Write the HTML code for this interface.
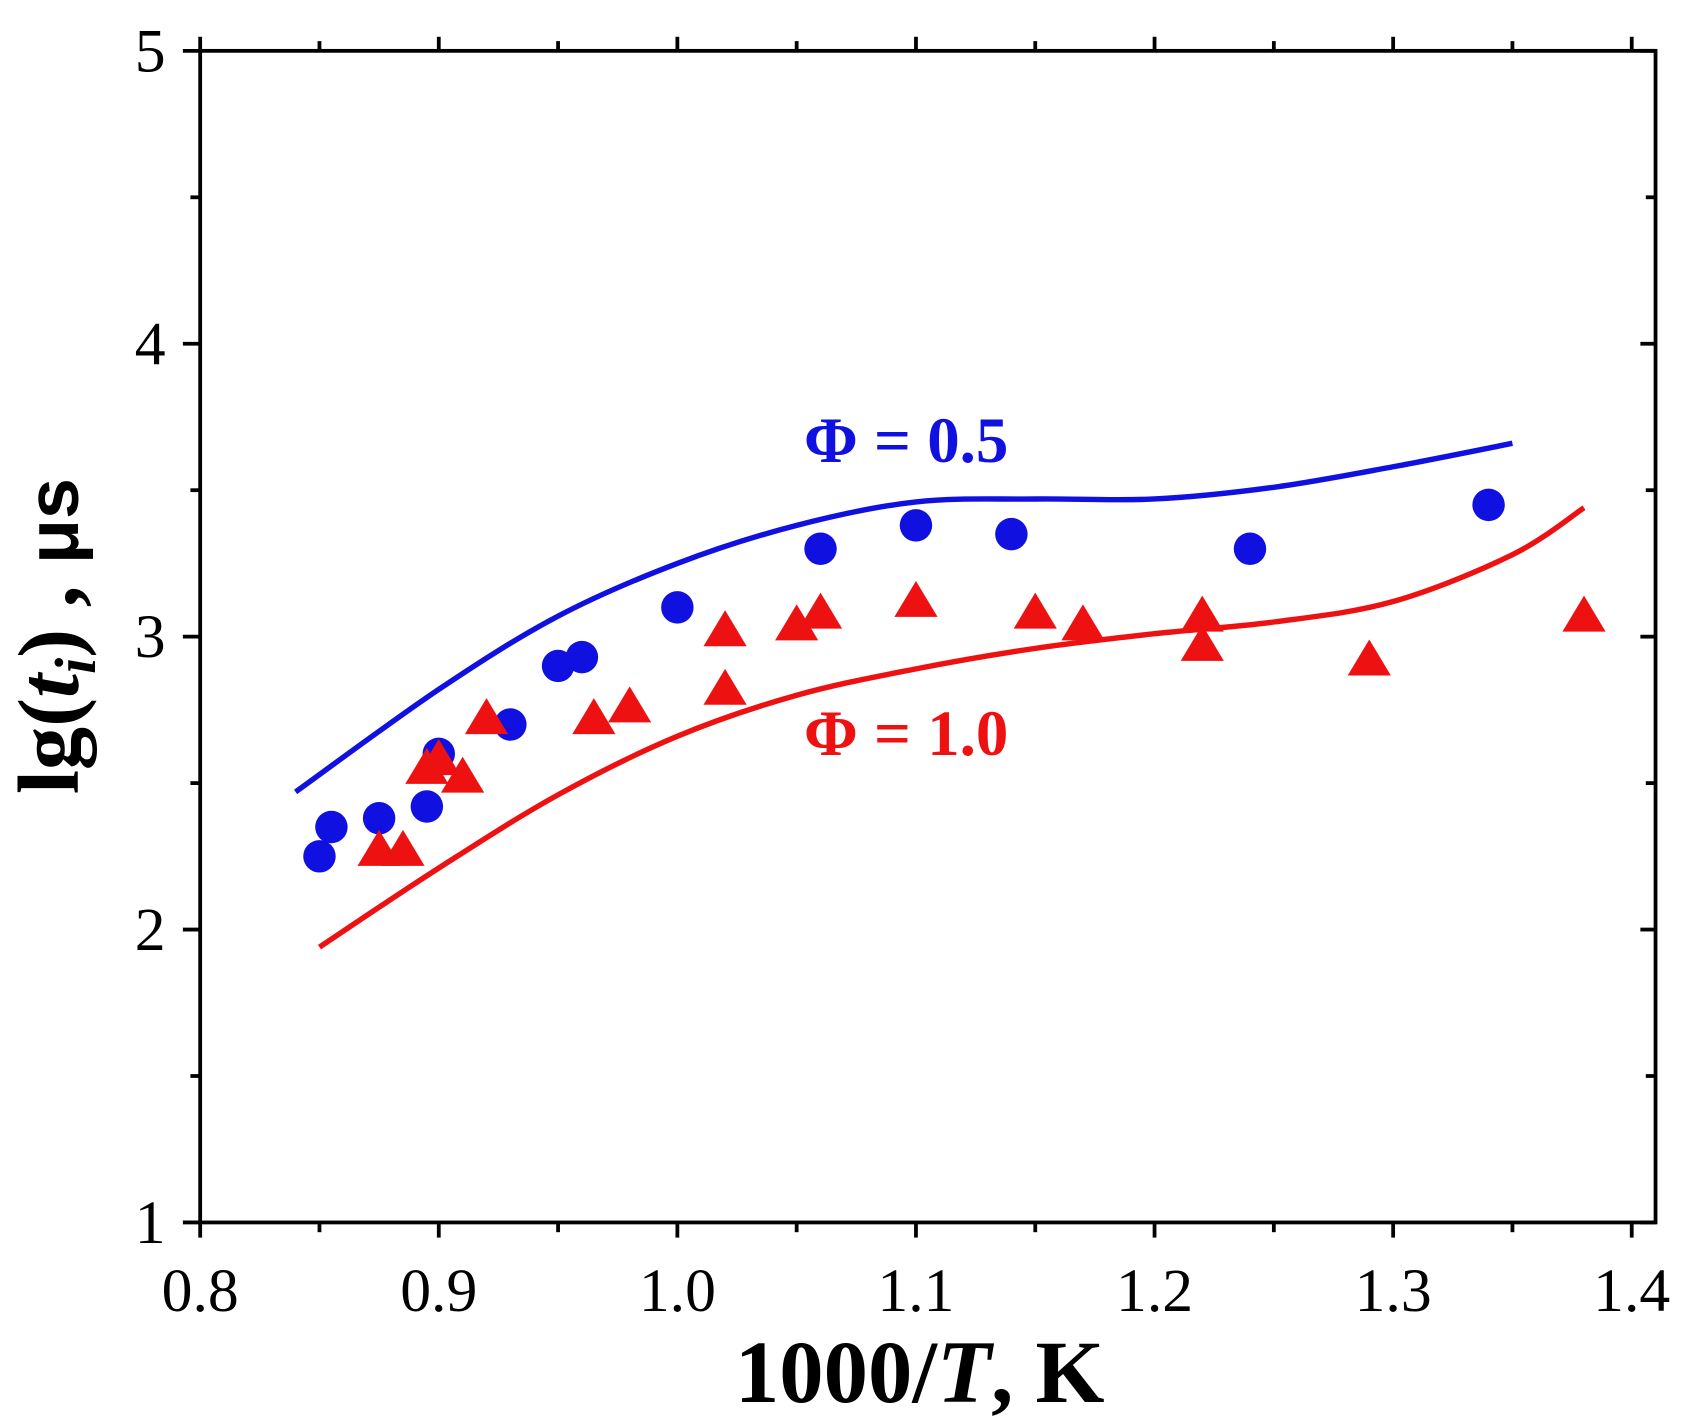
<!DOCTYPE html>
<html><head><meta charset="utf-8"><style>
html,body{margin:0;padding:0;background:#fff;}
svg{display:block;}
text{font-family:"Liberation Serif",serif;}
</style></head><body>
<svg id="chart" width="1688" height="1428" viewBox="0 0 1560 1320" preserveAspectRatio="none" xmlns="http://www.w3.org/2000/svg">
<g id="axes"></g>
<g id="series"></g>
<text x="743" y="427" fill="#1010e0" font-weight="bold" font-size="60">Φ = 0.5</text>
<text x="743" y="698" fill="#ee1111" font-weight="bold" font-size="60">Φ = 1.0</text>
<text x="850" y="1296" text-anchor="middle" font-weight="bold" font-size="82">1000/<tspan font-style="italic">T</tspan>, K</text>
<text transform="translate(72,588) rotate(-90)" text-anchor="middle" font-weight="bold" font-size="80">lg(<tspan font-style="italic">t</tspan><tspan font-style="italic" font-size="54" dy="16">i</tspan><tspan dy="-16">) , </tspan><tspan font-family="Liberation Sans, sans-serif" font-size="68">μs</tspan></text>
</svg>
<script>
const xTicks=[0.8,0.9,1.0,1.1,1.2,1.3,1.4];
const xTickLabels=["0.8","0.9","1.0","1.1","1.2","1.3","1.4"];
const yTicks=[1,2,3,4,5];
const yTickLabels=["1","2","3","4","5"];
const blueX=[0.85,0.855,0.875,0.895,0.9,0.93,0.95,0.96,1.0,1.06,1.1,1.14,1.24,1.34];
const blueY=[2.25,2.35,2.38,2.42,2.6,2.7,2.9,2.93,3.1,3.3,3.38,3.35,3.3,3.45];
const redX=[0.875,0.885,0.895,0.9,0.91,0.92,0.965,0.98,1.02,1.02,1.05,1.06,1.1,1.15,1.17,1.22,1.22,1.29,1.38];
const redY=[2.27,2.27,2.55,2.58,2.52,2.72,2.72,2.76,3.02,2.82,3.04,3.08,3.12,3.08,3.04,3.07,2.97,2.92,3.07];
const blueLineX=[0.84,0.9,0.95,1.0,1.05,1.1,1.15,1.2,1.25,1.3,1.35];
const blueLineY=[2.47,2.82,3.07,3.25,3.38,3.46,3.47,3.47,3.51,3.58,3.66];
const redLineX=[0.85,0.9,0.95,1.0,1.05,1.1,1.15,1.2,1.25,1.3,1.35,1.38];
const redLineY=[1.94,2.21,2.46,2.66,2.80,2.89,2.96,3.01,3.05,3.12,3.28,3.44];

const NS="http://www.w3.org/2000/svg";
const L=185,R=1530,T=47,B=1130;
const sx=v=>185+(v-0.8)/0.6*(1508-185);
const sy=v=>1130-(v-1)/4*(1130-47);
const axes=document.getElementById('axes'), series=document.getElementById('series');
function mk(tag,attrs,parent){const e=document.createElementNS(NS,tag);for(const k in attrs)e.setAttribute(k,attrs[k]);parent.appendChild(e);return e;}
const frame=mk('rect',{x:L,y:T,width:R-L,height:B-T,fill:'none',stroke:'#000','stroke-width':3.5},axes);


for(let i=0;i<xTicks.length;i++){
  const x=sx(xTicks[i]);
  const t1=mk('line',{x1:x,x2:x,y1:B,y2:B+14,stroke:'#000','stroke-width':3.5},axes);
  
  
  const t2=mk('line',{x1:x,x2:x,y1:T,y2:T-13,stroke:'#000','stroke-width':3.5},axes);
  
  
  const lb=mk('text',{x:x,y:B+82,'text-anchor':'middle','font-size':57},axes);
  lb.textContent=xTickLabels[i];
  
  
  if(i<xTicks.length-1){
    const xm=sx((xTicks[i]+xTicks[i+1])/2);
    const m1=mk('line',{x1:xm,x2:xm,y1:B,y2:B+9,stroke:'#000','stroke-width':3.5},axes);
    
    
    const m2=mk('line',{x1:xm,x2:xm,y1:T,y2:T-9,stroke:'#000','stroke-width':3.5},axes);
    
    
  }
}
for(let i=0;i<yTicks.length;i++){
  const y=sy(yTicks[i]);
  const t1=mk('line',{x1:L-16,x2:L,y1:y,y2:y,stroke:'#000','stroke-width':3.5},axes);
  
  
  const t2=mk('line',{x1:R-14,x2:R,y1:y,y2:y,stroke:'#000','stroke-width':3.5},axes);
  
  
  const lb=mk('text',{x:L-32,y:y+19,'text-anchor':'end','font-size':57},axes);
  lb.textContent=yTickLabels[i];
  
  
  if(i<yTicks.length-1){
    const ym=sy((yTicks[i]+yTicks[i+1])/2);
    const m1=mk('line',{x1:L-9,x2:L,y1:ym,y2:ym,stroke:'#000','stroke-width':3.5},axes);
    
    
    const m2=mk('line',{x1:R-9,x2:R,y1:ym,y2:ym,stroke:'#000','stroke-width':3.5},axes);
    
    
  }
}
function smooth(xs,ys){
  const p=xs.map((x,i)=>[sx(x),sy(ys[i])]);
  let d='M'+p[0][0]+','+p[0][1];
  for(let i=0;i<p.length-1;i++){
    const p0=p[i-1]||p[i],p1=p[i],p2=p[i+1],p3=p[i+2]||p[i+1];
    const c1=[p1[0]+(p2[0]-p0[0])/6,p1[1]+(p2[1]-p0[1])/6];
    const c2=[p2[0]-(p3[0]-p1[0])/6,p2[1]-(p3[1]-p1[1])/6];
    d+=' C'+c1+' '+c2+' '+p2;
  }
  return d;
}
const bl=mk('path',{d:smooth(blueLineX,blueLineY),fill:'none',stroke:'#1010e0','stroke-width':5},series);


const rl=mk('path',{d:smooth(redLineX,redLineY),fill:'none',stroke:'#ee1111','stroke-width':5},series);


for(let i=0;i<blueX.length;i++){
  const c=mk('circle',{cx:sx(blueX[i]),cy:sy(blueY[i]),r:15,fill:'#1010e0'},series);
  
  
}
for(let i=0;i<redX.length;i++){
  const x=sx(redX[i]),y=sy(redY[i]),s=19;
  const t=mk('polygon',{points:`${x},${y-s} ${x-s*1.05},${y+s*0.75} ${x+s*1.05},${y+s*0.75}`,fill:'#ee1111'},series);
  
  
}
</script>
</body></html>
